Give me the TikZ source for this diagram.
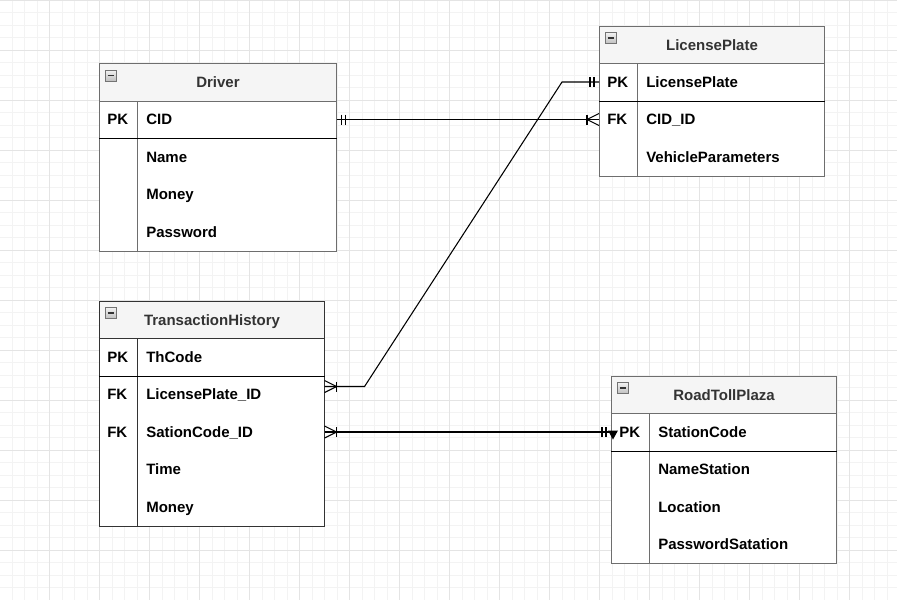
\documentclass[tikz,border=0pt]{standalone}
\usepackage{fontspec}
\setmainfont{Liberation Sans}
\usetikzlibrary{calc}

\definecolor{gridminor}{HTML}{F3F3F3}
\definecolor{gridmajor}{HTML}{E4E4E4}
\definecolor{frame}{HTML}{6E6E6E}
\definecolor{frameDark}{HTML}{333333}
\definecolor{headfill}{HTML}{F5F5F5}
\definecolor{titlecol}{HTML}{333333}

% ER table: name, x, y, width, number of rows, title, frame colour
\newcommand\ertable[7]{%
  \node[tablebox, draw=#7, minimum width=#4*0.75pt, minimum height=(#5+1)*37.5*0.75pt] (#1) at (#2,#3) {};
  \node[headbox, draw=#7, minimum width=#4*0.75pt] (#1-head) at (#2,#3) {};
  \node[titletext] (#1-title) at ($(#1-head.center)+(0,5.3)$) {#6};
  \draw[draw=#7, line width=0.75pt] ($(#1-head.south west)+(38,0)$) -- ($(#1.south west)+(38,0)$);
  \pic at ($(#1.north west)+(6,7)$) {collapser};
}
% ER row: table, row name, index, key, field, table width
\newcommand\errow[6]{%
  \node[rowbox, minimum width=#6*0.75pt] (#2) at ($(#1.north west)+(0,37.5+37.5*#3)$) {};
  \node[celltext] (#2-key) at ($(#2.west)+(8,5.3)$) {#4};
  \node[celltext] (#2-name) at ($(#2.west)+(47,5.3)$) {#5};
}

\tikzset{
  tablebox/.style={rectangle, anchor=north west, inner sep=0pt, fill=white, line width=0.75pt},
  headbox/.style={rectangle, anchor=north west, inner sep=0pt, fill=headfill, line width=0.75pt,
                  minimum height=37.5*0.75pt},
  rowbox/.style={rectangle, anchor=north west, inner sep=0pt, minimum height=37.5*0.75pt},
  titletext/.style={anchor=base, inner sep=0pt, text=titlecol,
                    font=\fontsize{11.25}{13}\selectfont\bfseries},
  celltext/.style={anchor=base west, inner sep=0pt, text=black,
                   font=\fontsize{11.25}{13}\selectfont\bfseries},
  pksep/.style={draw=black, line width=0.75pt},
  conn/.style={draw=black, line width=0.8pt},
  collapser/.pic={
    \draw[draw=black!55, top color=gray!10, bottom color=gray!50, line width=0.75pt] (0,0) rectangle (11,11);
    \draw[draw=black!80, line width=1.4pt] (2.5,5.5) -- (8.5,5.5);
  },
  erMandOne/.pic={
    \draw[conn] (5,-5) -- (5,5);
    \draw[conn] (9,-5) -- (9,5);
  },
  erOneMany/.pic={
    \draw[conn] (12,-5) -- (12,5);
    \draw[conn] (0,-6) -- (12,0) -- (0,6);
  },
}

\begin{document}
\begin{tikzpicture}[x=0.75pt, y=-0.75pt]
  \useasboundingbox (0,0) rectangle (897,600);
  \fill[white] (0,0) rectangle (897,600);

  % background grid
  \foreach \i in {0,...,71} {
    \draw[gridminor, line width=0.75pt] (\i*12.5-0.5,0) -- (\i*12.5-0.5,600);
  }
  \foreach \j in {0,...,48} {
    \draw[gridminor, line width=0.75pt] (0,\j*12.5) -- (897,\j*12.5);
  }
  \foreach \i in {0,...,17} {
    \draw[gridmajor, line width=0.75pt] (\i*50-0.5,0) -- (\i*50-0.5,600);
  }
  \foreach \j in {0,...,12} {
    \draw[gridmajor, line width=0.75pt] (0,\j*50) -- (897,\j*50);
  }

  % Driver
  \ertable{drv}{99}{63}{237}{4}{Driver}{frame}
  \errow{drv}{drvCID}{0}{PK}{CID}{237}
  \errow{drv}{drvName}{1}{}{Name}{237}
  \errow{drv}{drvMoney}{2}{}{Money}{237}
  \errow{drv}{drvPass}{3}{}{Password}{237}
  \draw[pksep] (drvCID.south west) -- (drvCID.south east);

  % LicensePlate
  \ertable{lp}{599}{25.5}{225}{3}{LicensePlate}{frame}
  \errow{lp}{lpPK}{0}{PK}{LicensePlate}{225}
  \errow{lp}{lpFK}{1}{FK}{CID\_ID}{225}
  \errow{lp}{lpVP}{2}{}{VehicleParameters}{225}
  \draw[pksep] (lpPK.south west) -- (lpPK.south east);

  % TransactionHistory
  \ertable{th}{99}{300.5}{225}{5}{TransactionHistory}{frameDark}
  \errow{th}{thPK}{0}{PK}{ThCode}{225}
  \errow{th}{thLP}{1}{FK}{LicensePlate\_ID}{225}
  \errow{th}{thSC}{2}{FK}{SationCode\_ID}{225}
  \errow{th}{thTime}{3}{}{Time}{225}
  \errow{th}{thMoney}{4}{}{Money}{225}
  \draw[pksep] (thPK.south west) -- (thPK.south east);

  % RoadTollPlaza
  \ertable{rtp}{611}{375.5}{225}{4}{RoadTollPlaza}{frame}
  \errow{rtp}{rtpSC}{0}{PK}{StationCode}{225}
  \errow{rtp}{rtpName}{1}{}{NameStation}{225}
  \errow{rtp}{rtpLoc}{2}{}{Location}{225}
  \errow{rtp}{rtpPass}{3}{}{PasswordSatation}{225}
  \draw[pksep] (rtpSC.south west) -- (rtpSC.south east);

  % Driver -- LicensePlate
  \draw[conn] (drvCID.east) -- (lpFK.west);
  \pic at (drvCID.east) {erMandOne};
  \pic[xscale=-1] at (lpFK.west) {erOneMany};

  % TransactionHistory -- LicensePlate
  \coordinate (thLPend) at ($(thLP.east)+(0,-8)$);
  \coordinate (bendA) at ($(thLPend)+(40,0)$);
  \coordinate (bendB) at ($(lpPK.west)+(-37,0)$);
  \draw[conn] (thLPend) -- (bendA) -- (bendB) -- (lpPK.west);
  \pic at (thLPend) {erOneMany};
  \pic[xscale=-1] at (lpPK.west) {erMandOne};

  % TransactionHistory -- RoadTollPlaza
  \draw[conn] (thSC.east) -- (rtpSC.west);
  \pic at (thSC.east) {erOneMany};
  \pic[xscale=-1] at (rtpSC.west) {erMandOne};
  \fill[black] ($(rtpSC.west)+(-3,-1.5)$) -- ++(10,0) -- ++(-5,9) -- cycle;
\end{tikzpicture}
\end{document}
